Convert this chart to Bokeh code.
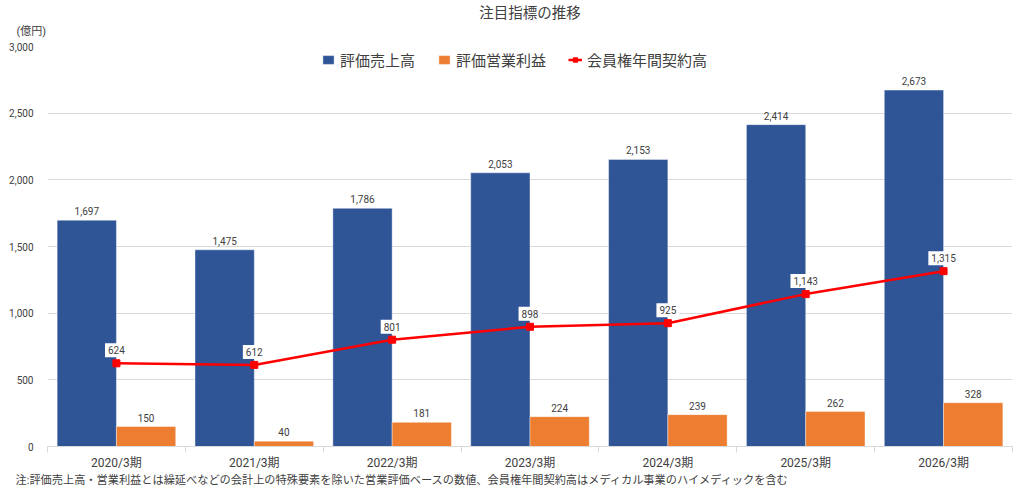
import numpy as np
from bokeh.plotting import figure
from bokeh.models import (ColumnDataSource, Range1d, FixedTicker, NumeralTickFormatter,
                          LabelSet, Legend, LegendItem, Title)
from bokeh.transform import dodge
from bokeh.core.properties import value
from bokeh.embed import file_html
from bokeh.resources import INLINE

# ---- data ----
periods = ["2020/3期", "2021/3期", "2022/3期", "2023/3期", "2024/3期", "2025/3期", "2026/3期"]
sales = [1697, 1475, 1786, 2053, 2153, 2414, 2673]          # 評価売上高
profit = [150, 40, 181, 224, 239, 262, 328]                 # 評価営業利益
contracts = [624, 612, 801, 898, 925, 1143, 1315]           # 会員権年間契約高
y_ticks = [0, 500, 1000, 1500, 2000, 2500, 3000]

title_text = "注目指標の推移"
unit_text = "(億円)"
note_text = "注:評価売上高・営業利益とは繰延べなどの会計上の特殊要素を除いた営業評価ベースの数値、会員権年間契約高はメディカル事業のハイメディックを含む"
series_names = ["評価売上高", "評価営業利益", "会員権年間契約高"]

FONT_S = "Roboto, 'Noto Sans CJK JP', sans-serif"
FONT_V = value(FONT_S)
BLUE = "#2F5597"
ORANGE = "#ED7D31"
RED = "#FF0000"
TXT = "#404040"

n = len(periods)
centers = [float(c) for c in np.arange(n) + 0.5]
src = ColumnDataSource(dict(
    x=centers,
    sales=sales, profit=profit, contracts=contracts,
    sales_lbl=[f"{v:,}" for v in sales],
    profit_lbl=[f"{v:,}" for v in profit],
    contracts_lbl=[f"{v:,}" for v in contracts],
))

p = figure(width=1024, height=504, x_range=Range1d(0, n), y_range=Range1d(0, 3000),
           output_backend="svg", toolbar_location=None,
           min_border_left=47, min_border_right=12, min_border_top=46, min_border_bottom=58)
p.outline_line_color = None
p.background_fill_color = "white"
p.border_fill_color = "white"

# unit label (nearest the frame) and main title (outermost)
p.add_layout(Title(text=unit_text, align="left", offset=-31, standoff=17,
                   text_font=FONT_S, text_font_size="11px", text_font_style="normal",
                   text_color=TXT), "above")
p.title.text = title_text
p.title.align = "center"
p.title.text_font = FONT_S
p.title.text_font_size = "14.5px"
p.title.text_font_style = "normal"
p.title.text_color = TXT
p.title.standoff = -14

BW = 0.43
r_sales = p.vbar(x=dodge("x", -BW / 2, range=p.x_range), top="sales", width=BW, source=src,
                 fill_color=BLUE, line_color="white", line_width=0.8, line_alpha=0.5)
r_profit = p.vbar(x=dodge("x", BW / 2, range=p.x_range), top="profit", width=BW, source=src,
                  fill_color=ORANGE, line_color="white", line_width=0.8, line_alpha=0.5)
r_line = p.line(x="x", y="contracts", source=src, line_color=RED, line_width=2.5)
r_pts = p.scatter(x="x", y="contracts", source=src, marker="square", size=7,
                  fill_color=RED, line_color=RED)

# value labels
common = dict(text_font=FONT_V, text_font_size="10px", text_color=TXT, text_align="center")
p.add_layout(LabelSet(x=dodge("x", -BW / 2, range=p.x_range), y="sales", text="sales_lbl",
                      y_offset=5, text_baseline="bottom", source=src, **common))
p.add_layout(LabelSet(x=dodge("x", BW / 2, range=p.x_range), y="profit", text="profit_lbl",
                      y_offset=5, text_baseline="bottom", source=src, **common))
# line labels in white boxes
p.text(x="x", y="contracts", text="contracts_lbl", source=src, y_offset=-13,
       text_baseline="middle", background_fill_color="white", padding=3, **common)

# axes
p.yaxis.ticker = FixedTicker(ticks=y_ticks)
p.yaxis.formatter = NumeralTickFormatter(format="0,0")
p.yaxis.axis_line_color = None
p.yaxis.major_tick_line_color = None
p.yaxis.minor_tick_line_color = None
p.yaxis.major_label_text_font = FONT_S
p.yaxis.major_label_text_font_size = "10px"
p.yaxis.major_label_text_color = TXT
p.yaxis.major_label_standoff = 8

p.xaxis.ticker = FixedTicker(ticks=centers, minor_ticks=list(range(n + 1)))
p.xaxis.major_label_overrides = {c: lab for c, lab in zip(centers, periods)}
p.xaxis.axis_line_color = "#D9D9D9"
p.xaxis.major_tick_line_color = None
p.xaxis.major_tick_out = 0
p.xaxis.major_tick_in = 0
p.xaxis.minor_tick_line_color = "#D9D9D9"
p.xaxis.minor_tick_out = 6
p.xaxis.minor_tick_in = 0
p.xaxis.major_label_text_font = FONT_S
p.xaxis.major_label_text_font_size = "12px"
p.xaxis.major_label_text_color = TXT
p.xaxis.major_label_standoff = 3

p.xgrid.grid_line_color = None
p.ygrid.grid_line_color = "#D9D9D9"
p.ygrid.ticker = FixedTicker(ticks=y_ticks)

# note under the axis
p.add_layout(Title(text=note_text, align="left", offset=-32, standoff=-2,
                   text_font=FONT_S, text_font_size="11.2px", text_font_style="normal",
                   text_color=TXT), "below")

# legend
legend = Legend(items=[
    LegendItem(label=series_names[0], renderers=[r_sales]),
    LegendItem(label=series_names[1], renderers=[r_profit]),
    LegendItem(label=series_names[2], renderers=[r_line, r_pts]),
], orientation="horizontal", location=(274, 376))
legend.label_text_font = FONT_S
legend.label_text_font_size = "15px"
legend.label_text_color = TXT
legend.background_fill_alpha = 0
legend.border_line_color = None
legend.glyph_width = 14
legend.glyph_height = 11
legend.spacing = 22
legend.label_standoff = 5
legend.margin = 0
legend.padding = 4
p.add_layout(legend, "center")

open("out.html", "w").write(file_html(p, INLINE))
